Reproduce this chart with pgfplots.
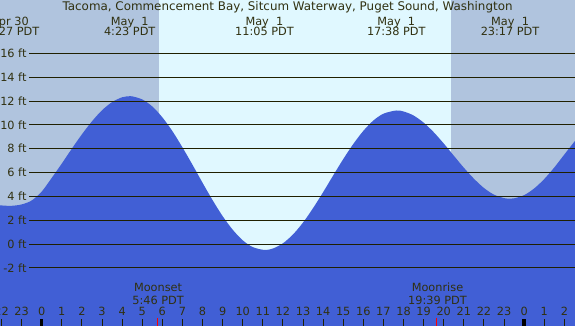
\documentclass[border=0pt]{standalone}
\usepackage{pgfplots}
\usepackage{pgfplotstable}
\pgfplotsset{compat=1.18}
\usepackage{fontspec}
\setmainfont{DejaVu Sans}
\definecolor{night}{RGB}{176,196,222}
\definecolor{day}{RGB}{224,248,255}
\definecolor{tide}{RGB}{65,95,213}
\definecolor{txt}{RGB}{48,48,16}
\definecolor{gridc}{RGB}{32,32,0}
\tikzset{lbl/.style={font=\fontsize{11.3}{12}\selectfont, text=txt, inner sep=0pt}}
% tide height (ft) against hours from midnight May 1; first two and last two rows close the area off-canvas
\pgfplotstableread{
t h
-3.0 -7
-3.0 3.4
-2.6 3.32
-2.2 3.26
-1.55 3.2
-1.0 3.32
-0.5 3.65
0 4.4
0.5 5.55
1 6.75
1.5 8.0
2 9.2
2.5 10.29
3 11.22
3.5 11.9
4 12.31
4.383 12.4
4.5 12.39
5 12.13
5.5 11.54
6 10.63
6.5 9.47
7 8.11
7.5 6.65
8 5.14
8.5 3.68
9 2.34
9.5 1.2
10 0.31
10.5 -0.26
11.083 -0.5
11.5 -0.38
12 0.06
12.5 0.8
13 1.8
13.5 3.01
14 4.35
14.5 5.75
15 7.12
15.5 8.39
16 9.49
16.5 10.36
17 10.93
17.633 11.2
18 11.12
18.5 10.78
19 10.18
19.5 9.38
20 8.43
20.5 7.41
21 6.4
21.5 5.48
22 4.7
22.5 4.14
23 3.85
23.283 3.8
23.5 3.83
24 4.1
24.5 4.66
25 5.45
25.5 6.42
26 7.51
26.7 9.0
27.2 9.9
27.2 -7
}\tidetable
\begin{document}
\begin{tikzpicture}
\path[use as bounding box, clip] (0,0) rectangle (575pt,326pt);
\begin{axis}[at={(0,0)}, anchor=south west, scale only axis, width=575pt, height=326pt,
  xmin=-2.075, xmax=26.53, ymin=-6.879, ymax=20.47, axis lines=none, clip=false]
% backgrounds: night and daylight
\addplot[draw=none, fill=night] coordinates {(-3.2,-7.5) (27.5,-7.5) (27.5,21) (-3.2,21)} -- cycle;
\addplot[draw=none, fill=day] coordinates {(5.836,-7.5) (20.36,-7.5) (20.36,21) (5.836,21)} -- cycle;
% tide
\addplot[draw=none, fill=tide, smooth] table[x=t, y=h] {\tidetable} -- cycle;
% grid lines and labels
\pgfplotsinvokeforeach{-2,0,2,4,6,8,10,12,14,16}{
  \addplot[gridc, line width=0.9pt] coordinates {(-0.617,#1) (26.7,#1)};
  \node[lbl, anchor=east] at (axis cs:-0.749,#1) {#1 ft};
}
% hour ticks
\addplot[only marks, mark=|, mark size=3.5pt, gridc, mark options={line width=1pt}] coordinates {
(-2,-6.586) (-1,-6.586) (1,-6.586) (2,-6.586) (3,-6.586) (4,-6.586) (5,-6.586) (6,-6.586) (7,-6.586)
(8,-6.586) (9,-6.586) (10,-6.586) (11,-6.586) (12,-6.586) (13,-6.586) (14,-6.586) (15,-6.586)
(16,-6.586) (17,-6.586) (18,-6.586) (19,-6.586) (20,-6.586) (21,-6.586) (22,-6.586) (23,-6.586)
(25,-6.586) (26,-6.586)};
\addplot[only marks, mark=|, mark size=3.5pt, black, mark options={line width=3.5pt}] coordinates {
(0,-6.586) (24,-6.586)};
\addplot[only marks, mark=|, mark size=4pt, red, mark options={line width=1.3pt}] coordinates {
(5.767,-6.54) (19.65,-6.54)};
% hour labels
\node[lbl, anchor=base] at (axis cs:-2,-6.04) {22};
\node[lbl, anchor=base] at (axis cs:-1,-6.04) {23};
\node[lbl, anchor=base] at (axis cs:0,-6.04) {0};
\node[lbl, anchor=base] at (axis cs:1,-6.04) {1};
\node[lbl, anchor=base] at (axis cs:2,-6.04) {2};
\node[lbl, anchor=base] at (axis cs:3,-6.04) {3};
\node[lbl, anchor=base] at (axis cs:4,-6.04) {4};
\node[lbl, anchor=base] at (axis cs:5,-6.04) {5};
\node[lbl, anchor=base] at (axis cs:6,-6.04) {6};
\node[lbl, anchor=base] at (axis cs:7,-6.04) {7};
\node[lbl, anchor=base] at (axis cs:8,-6.04) {8};
\node[lbl, anchor=base] at (axis cs:9,-6.04) {9};
\node[lbl, anchor=base] at (axis cs:10,-6.04) {10};
\node[lbl, anchor=base] at (axis cs:11,-6.04) {11};
\node[lbl, anchor=base] at (axis cs:12,-6.04) {12};
\node[lbl, anchor=base] at (axis cs:13,-6.04) {13};
\node[lbl, anchor=base] at (axis cs:14,-6.04) {14};
\node[lbl, anchor=base] at (axis cs:15,-6.04) {15};
\node[lbl, anchor=base] at (axis cs:16,-6.04) {16};
\node[lbl, anchor=base] at (axis cs:17,-6.04) {17};
\node[lbl, anchor=base] at (axis cs:18,-6.04) {18};
\node[lbl, anchor=base] at (axis cs:19,-6.04) {19};
\node[lbl, anchor=base] at (axis cs:20,-6.04) {20};
\node[lbl, anchor=base] at (axis cs:21,-6.04) {21};
\node[lbl, anchor=base] at (axis cs:22,-6.04) {22};
\node[lbl, anchor=base] at (axis cs:23,-6.04) {23};
\node[lbl, anchor=base] at (axis cs:24,-6.04) {0};
\node[lbl, anchor=base] at (axis cs:25,-6.04) {1};
\node[lbl, anchor=base] at (axis cs:26,-6.04) {2};
% moon events
\node[lbl, anchor=base] at (axis cs:5.786,-3.95) {Moonset};
\node[lbl, anchor=base] at (axis cs:5.786,-5.05) {5:46 PDT};
\node[lbl, anchor=base] at (axis cs:19.69,-3.95) {Moonrise};
\node[lbl, anchor=base] at (axis cs:19.69,-5.05) {19:39 PDT};
% title and tide events
\node[lbl, anchor=base, font=\fontsize{11.9}{13}\selectfont] at (axis cs:12.23,19.55) {Tacoma, Commencement Bay, Sitcum Waterway, Puget Sound, Washington};
\node[lbl, anchor=base] at (axis cs:-1.58,18.37) {Apr 30};
\node[lbl, anchor=base] at (axis cs:-1.58,17.45) {22:27 PDT};
\node[lbl, anchor=base] at (axis cs:4.378,18.37) {May~~1};
\node[lbl, anchor=base] at (axis cs:4.378,17.45) {4:23 PDT};
\node[lbl, anchor=base] at (axis cs:11.08,18.37) {May~~1};
\node[lbl, anchor=base] at (axis cs:11.08,17.45) {11:05 PDT};
\node[lbl, anchor=base] at (axis cs:17.64,18.37) {May~~1};
\node[lbl, anchor=base] at (axis cs:17.64,17.45) {17:38 PDT};
\node[lbl, anchor=base] at (axis cs:23.3,18.37) {May~~1};
\node[lbl, anchor=base] at (axis cs:23.3,17.45) {23:17 PDT};
\end{axis}
\end{tikzpicture}
\end{document}
